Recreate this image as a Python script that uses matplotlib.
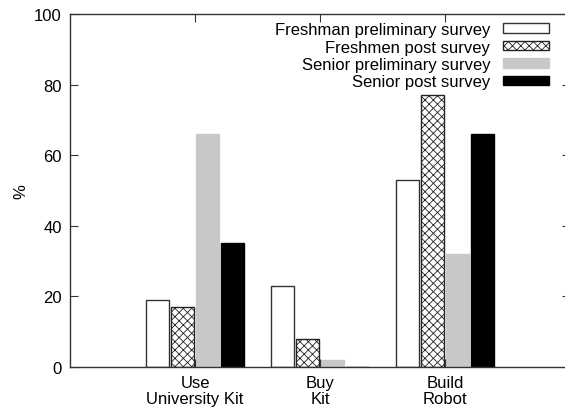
import matplotlib
matplotlib.use("Agg")
import matplotlib.pyplot as plt
import numpy as np

categories = ["Use\nUniversity Kit", "Buy\nKit", "Build\nRobot"]
series_names = ["Freshman preliminary survey", "Freshmen post survey",
                "Senior preliminary survey", "Senior post survey"]
fresh_pre = [19, 23, 53]
fresh_post = [17, 8, 77]
senior_pre = [66, 2, 32]
senior_post = [35, 0, 66]

plt.rcParams['font.family'] = ['Liberation Sans', 'DejaVu Sans']
plt.rcParams['hatch.linewidth'] = 0.6

fig = plt.figure(figsize=(5.65, 4.14), dpi=100)
ax = fig.add_axes([70/565, 1-368/414, 500/565, 353/414])

x = np.arange(1, len(categories)+1)
w = 0.185
offs = [-0.3, -0.1, 0.1, 0.3]
styles = [
    dict(facecolor='white', edgecolor='#333333', hatch=None),
    dict(facecolor='white', edgecolor='#222222', hatch='xxxx'),
    dict(facecolor='#c8c8c8', edgecolor='#c8c8c8', hatch=None),
    dict(facecolor='black', edgecolor='black', hatch=None),
]
data = [fresh_pre, fresh_post, senior_pre, senior_post]
for vals, off, st, name in zip(data, offs, styles, series_names):
    ax.bar(x + off, vals, width=w, linewidth=1.0, label=name, **st)

ax.set_xlim(0, 4)
ax.set_ylim(0, 100)
ax.set_xticks(x)
ax.set_xticklabels(categories, fontsize=12, linespacing=1.05)
ax.set_yticks(np.arange(0, 101, 20))
ax.tick_params(axis='both', direction='in', top=True, right=True, length=6,
               color='#333333', labelsize=12, width=0.8)
ax.tick_params(axis='x', pad=6)
ax.tick_params(axis='y', pad=6)
for s in ax.spines.values():
    s.set_color('#333333')
    s.set_linewidth(1.0)
ax.set_ylabel('%', fontsize=12, labelpad=4)

leg = ax.legend(loc='upper right', bbox_to_anchor=((549-70)/500, 1 - 8/353),
                markerfirst=False, frameon=False, fontsize=12,
                handlelength=2.75, handleheight=0.5, labelspacing=0.15,
                handletextpad=0.78, borderaxespad=0, borderpad=0)

fig.savefig('out.png', dpi=100)
